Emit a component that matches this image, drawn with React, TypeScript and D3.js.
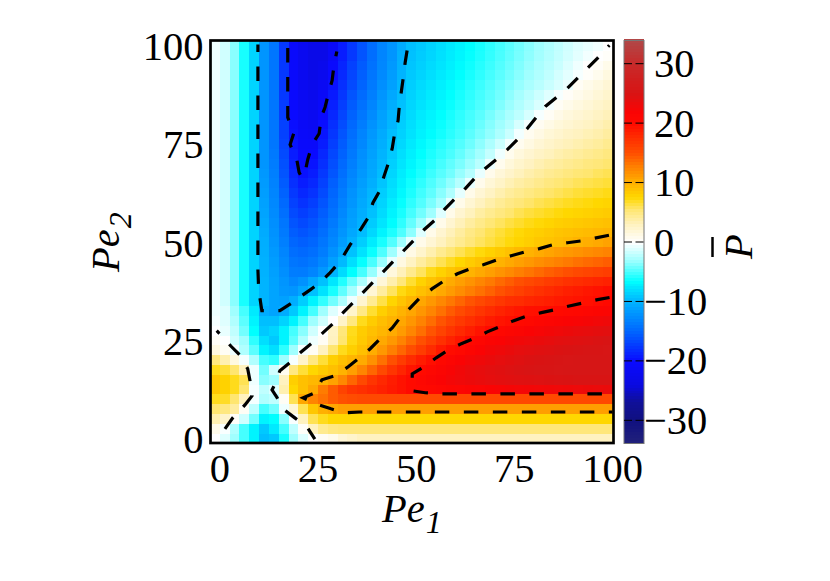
import * as d3 from "d3";
import React from "react";

// Pe1 and Pe2 grid, every 2.5
const pe1Values = d3.range(0, 102.5, 2.5);
const pe1Ticks = [0, 25, 50, 75, 100];
const pe2Ticks = [0, 25, 50, 75, 100];
const barTicks = [30, 20, 10, 0, -10, -20, -30];

// colour stops
const colorLevels = [-34, -30, -27, -24, -20, -15, -10, -6.5, -3, 0, 3, 5.5, 7.5, 10, 13, 15, 18, 20, 22, 25, 30, 34];
const colorStops = [
  "#22227a", "#101080", "#101098", "#0a0ae0", "#0a0aff", "#0066ff", "#00b4ff", "#00ffff", "#a0ffff", "#ffffff",
  "#fff2c0", "#ffe670", "#ffd700", "#ffb000", "#ff7c00", "#ff5000", "#ff2800", "#ff0a00", "#fa0404", "#d81414", "#c82a2a", "#b04848",
];

// mean P, one row per Pe2 value from 0 up to 100
const pbarRows = [
  [0,-1,-3,-5,-7,-9.5,-9,-6,-3,-1,0,.5,1,2,2.5,3,3,3,3,3,3,3,3,3,3,3,3,3,3,3,3,3,3,3,3,3,3,3,3,3,3],
  [1,-.2,-2.5,-5,-7,-9,-7.5,-5,-2,.3,3,4.5,5,5.2,5.2,5.2,5.2,5.2,5.2,5.2,5.2,5.2,5.2,5.2,5.2,5.2,5.2,5.2,5.2,5.2,5.2,5.2,5.2,5.2,5.2,5.2,5.2,5.2,5.2,5.2,5.2],
  [3.5,2.5,.3,-1.5,-4,-7,-6.5,-3.5,-.2,3,6,7,7.5,7.5,7.5,7.5,7.5,7.5,7.5,7.5,7.5,7.5,7.5,7.5,7.5,7.5,7.5,7.5,7.5,7.5,7.5,7.5,7.5,7.5,7.5,7.5,7.5,7.5,7.5,7.5,7.5],
  [5.5,5,4,.5,-2,-5,-4,-.5,2,6,8.5,10,10.5,11,11,11,11,11,11,11,11,11,11,11,11,11,11,11,11,11,11,11,11,11,11,11,11,11,11,11,11],
  [7,6.8,5.5,3,-.3,-2.5,-2,.5,6,10.5,12.5,13.5,14.5,15,15.3,15.5,15.5,15.5,15.5,15.5,15.5,15.5,15.5,15.5,15.5,15.5,15.5,15.5,15.5,15.5,15.5,15.5,15.5,15.5,15.5,15.5,15.5,15.5,15.5,15.5,15.5],
  [8.5,7.8,7,5.5,-.3,-2,-1,3.5,7.5,9,10.3,13,14.5,16,17,17.5,18,18.5,19,19.5,20,20.3,20.6,20.9,21.2,21.4,21.6,21.8,22,22.2,22.4,22.5,22.6,22.7,22.8,22.9,23,23.1,23.2,23.3,23.4],
  [8.5,7.8,7,6,-.5,-3.5,-3,3,8,9,9.5,9.9,10.8,12.3,14,15.5,17,18,18.8,19.5,20.1,20.8,21.5,22,22.5,22.9,23.2,23.5,23.8,24,24.2,24.4,24.5,24.6,24.7,24.8,24.9,25,25,25,25],
  [7,6.5,5.5,3,-.5,-4,-1.5,.7,5,6.5,7.5,8.3,9,9.8,11,12.5,14,15.5,17,18.2,19.3,20,20.8,21.5,22.2,22.8,23.3,23.7,24,24.3,24.6,24.8,25,25.2,25.3,25.4,25.5,25.5,25.5,25.5,25.5],
  [5,3.5,1.5,-.3,-2.5,-5,-5.5,-3,-.3,2.5,5,6.5,8,9,9.7,10.3,11.8,13.5,15,16.5,17.8,18.8,19.7,20.6,21.3,22,22.5,23,23.4,23.8,24.1,24.4,24.7,24.9,25.1,25.3,25.4,25.5,25.5,25.5,25.5],
  [1.5,.5,-.5,-2.5,-4.5,-7,-8,-5.5,-3,-.3,.5,3,5.5,7,8,9,10.2,11.4,12.8,14,15.2,16.5,17.8,19,19.9,20.5,21.2,22,22.6,23,23.4,23.8,24,24.3,24.5,24.7,24.9,25,25.2,25.3,25.4],
  [.5,0,-1.5,-3,-5.5,-8,-9,-7,-4.5,-2.5,-.5,.5,3,5.5,7.2,8.4,9.4,10.4,11.4,12.6,13.8,15,16.2,17.4,18.4,19.2,20.3,21,21.6,22,22.4,22.8,23.1,23.4,23.7,24,24.2,24.4,24.6,24.8,25],
  [0,-.7,-2,-4,-6.5,-9,-8.5,-7,-5,-3.5,-1.5,0,2.8,5.2,7,8.2,9,9.6,10.3,11.2,12.4,13.6,14.8,16,17,17.9,18.7,19.4,20,20.6,21.1,21.5,21.9,22.3,22.6,22.9,23.2,23.5,23.7,23.9,24.1],
  [-.3,-1,-2.5,-4.5,-7,-9.5,-9.5,-8.5,-7,-5,-3,-1.5,0,2.6,5,7,8.2,9.1,9.8,10.5,11.5,12.6,13.7,14.8,15.8,16.7,17.5,18.2,18.9,19.3,19.7,20.1,20.5,20.9,21.3,21.6,21.9,22.2,22.4,22.7,23],
  [-.5,-1,-3,-5,-7.5,-10.5,-11,-10.5,-9,-7,-5,-3,-1,0,2.4,4.8,6.6,8,9,9.8,10.6,11.5,12.5,13.5,14.5,15.4,16.2,17,17.7,18.3,18.8,19.2,19.6,19.7,19.9,20.1,20.3,20.6,20.9,21.2,21.5],
  [-.5,-1.5,-3.5,-6,-8.5,-10,-11,-11.2,-10.4,-8.8,-7,-5.4,-4,-2.5,-.5,2.2,4.4,6.2,7.6,8.7,9.6,10.5,11.4,12.3,13.2,14,14.8,15.5,16.2,16.9,17.5,17.7,18.1,18.4,18.7,19,19.2,19.4,19.6,19.9,20.2],
  [-.5,-1.5,-3.5,-6,-8.5,-10,-11,-11.8,-12,-10.9,-9.4,-7.8,-6,-4.4,-2.8,-.6,2,4,5.8,7.2,8.2,9,9.7,10.4,11.2,12,12.8,13.5,14.2,14.9,15.6,16.2,16.8,17.3,17.8,18.2,18.6,18.9,19.2,19.5,19.8],
  [-.5,-1.5,-3.5,-6,-8.5,-10,-11.1,-12,-12.8,-12.2,-10.8,-9.4,-7.6,-5.8,-4.2,-2.6,-.6,1.8,3.6,5.2,6.6,7.8,8.7,9.5,10.3,11,11.7,12.4,13.1,13.8,14.4,15,15.5,16,16.5,16.9,17.3,17.6,17.9,18.2,18.5],
  [-.5,-1.5,-3.5,-6,-8.5,-10.1,-11.3,-12.4,-13.5,-13.6,-13,-11.8,-10,-8.2,-6.5,-5,-3.2,-.8,1.6,3.2,4.6,5.8,7,7.8,8.6,9.2,9.8,10.4,11,11.6,12.2,12.8,13.3,13.8,14.3,14.7,15.1,15.5,15.8,16.1,16.4],
  [-.5,-1.5,-3.5,-6,-8.5,-10.2,-11.5,-12.7,-14,-14.2,-13.8,-12.8,-11.3,-9.7,-8,-6.4,-4.9,-3.1,-.7,1.4,2.8,4,5,6,6.8,7.5,8.2,8.8,9.4,9.9,10.4,10.9,11.4,11.9,12.3,12.7,13.1,13.5,13.8,14.1,14.4],
  [-.5,-1.5,-3.5,-6,-8.5,-10.3,-11.7,-13,-14.5,-14.8,-14.4,-13.5,-12.2,-10.8,-9.3,-7.8,-6.3,-4.8,-3,-.7,1.2,2.4,3.5,4.5,5.3,6,6.7,7.3,7.9,8.4,8.9,9.4,9.9,10.3,10.7,11.1,11.4,11.7,12,12.3,12.6],
  [-.5,-1.5,-3.5,-6,-8.5,-10.4,-12,-13.4,-15,-15.4,-15,-14,-12.8,-11.5,-10.1,-8.8,-7.4,-6,-4.7,-3,-.8,1,2,3,3.8,4.5,5.2,5.8,6.3,6.8,7.3,7.7,8.1,8.5,8.8,9.1,9.4,9.8,10.1,10.4,10.8],
  [-.5,-1.5,-3.5,-6,-8.5,-10.6,-12.2,-13.7,-15.5,-16,-15.5,-14.5,-13.2,-12,-10.8,-9.6,-8.3,-7,-5.9,-4.8,-3.4,-1,1,2.2,3.2,4,4.8,5.4,6,6.5,7,7.4,7.8,8.1,8.4,8.7,8.9,9.1,9.3,9.5,9.7],
  [-.5,-1.5,-3.5,-6,-8.5,-10.8,-12.4,-14,-16,-16.6,-16,-15,-13.7,-12.4,-11.2,-10.1,-8.9,-7.7,-6.6,-5.5,-4.3,-3,-1,1,2.2,3.2,4,4.7,5.3,5.8,6.3,6.7,7.1,7.4,7.7,8,8.2,8.4,8.6,8.8,9],
  [-.5,-1.5,-3.5,-6,-8.5,-11,-12.6,-14.4,-16.5,-17.2,-16.6,-15.5,-14.2,-12.8,-11.5,-10.4,-9.4,-8.2,-7,-6,-5,-4,-3,-1,1,2.2,3.1,3.9,4.5,5,5.5,6,6.4,6.7,7,7.3,7.5,7.7,7.9,8.1,8.3],
  [-.5,-1.5,-3.5,-6,-8.5,-11.2,-12.8,-14.8,-17,-17.8,-17.2,-16,-14.6,-13.2,-11.9,-10.7,-9.7,-8.5,-7.4,-6.4,-5.5,-4.7,-3.8,-2.8,-.8,1,2.1,3,3.7,4.3,4.8,5.2,5.6,6,6.3,6.6,6.9,7.1,7.3,7.5,7.7],
  [-.5,-1.5,-3.5,-6,-8.5,-11.4,-13,-15.2,-17.5,-18.4,-17.8,-16.5,-15,-13.6,-12.2,-11,-9.9,-8.8,-7.8,-6.8,-5.9,-5.1,-4.4,-3.5,-2.5,-.8,1,2,2.8,3.5,4.1,4.5,4.9,5.3,5.6,5.9,6.2,6.5,6.7,6.9,7.1],
  [-.5,-1.5,-3.5,-6,-8.5,-11.6,-13.2,-15.6,-18,-19,-18.4,-17,-15.4,-14,-12.6,-11.4,-10.3,-9.2,-8.1,-7.1,-6.2,-5.5,-4.8,-4.1,-3.3,-2.3,-.7,.9,1.9,2.6,3.3,3.8,4.2,4.6,5,5.3,5.6,5.9,6.1,6.3,6.5],
  [-.5,-1.5,-3.5,-6,-8.5,-11.8,-13.4,-16,-18.4,-19.6,-19,-17.5,-15.9,-14.4,-13,-11.8,-10.7,-9.6,-8.4,-7.4,-6.6,-5.9,-5.2,-4.6,-4,-3.2,-2.3,-.7,.9,1.8,2.5,3.1,3.6,4,4.4,4.7,5,5.3,5.5,5.8,6],
  [-.5,-1.5,-3.5,-6,-8.5,-12,-13.6,-16.2,-18.8,-20,-19.5,-18,-16.3,-14.8,-13.4,-12.1,-10.9,-9.8,-8.7,-7.7,-6.9,-6.2,-5.6,-5,-4.4,-3.8,-3.1,-2.2,-.6,.8,1.7,2.4,2.9,3.4,3.8,4.1,4.4,4.7,5,5.2,5.5],
  [-.5,-1.5,-3.5,-6,-8.5,-12,-13.8,-16.5,-19,-20.2,-20,-18.4,-16.7,-15.2,-13.8,-12.4,-11.2,-10,-9,-8,-7.2,-6.5,-5.9,-5.4,-4.9,-4.3,-3.6,-2.9,-1.9,-.5,.8,1.6,2.2,2.7,3.1,3.5,3.8,4.1,4.4,4.7,5],
  [-.5,-1.5,-3.5,-6,-8.5,-12,-14,-16.8,-19.4,-20.5,-20.7,-19,-17.2,-15.6,-14.1,-12.8,-11.5,-10.3,-9.2,-8.3,-7.5,-6.8,-6.2,-5.7,-5.2,-4.7,-4.1,-3.4,-2.6,-1.6,-.4,.7,1.4,2,2.5,2.9,3.2,3.5,3.8,4.1,4.5],
  [-.5,-1.5,-3.5,-6,-8.5,-12,-14,-17,-19.6,-20.8,-21.2,-19.4,-17.6,-16,-14.5,-13.1,-11.8,-10.6,-9.5,-8.6,-7.8,-7.1,-6.6,-6.1,-5.6,-5.1,-4.5,-3.9,-3.3,-2.6,-1.7,-.4,.7,1.3,1.9,2.3,2.7,3,3.3,3.6,4],
  [-.5,-1.5,-3.5,-6,-8.5,-12,-14,-17,-19.8,-21,-21.5,-19.8,-18,-16.4,-14.9,-13.5,-12.2,-11,-9.9,-8.8,-8,-7.3,-6.8,-6.3,-5.8,-5.3,-4.8,-4.2,-3.6,-3,-2.3,-1.3,-.3,.6,1.2,1.7,2.1,2.5,2.8,3.2,3.6],
  [-.5,-1.5,-3.5,-6,-8.5,-12,-14,-17.2,-20,-21.2,-21.8,-20.2,-18.4,-16.8,-15.2,-13.9,-12.6,-11.2,-10,-9,-8.2,-7.5,-7,-6.5,-6,-5.5,-5,-4.5,-3.9,-3.3,-2.7,-2.1,-1.3,-.3,.5,1.1,1.6,2,2.4,2.8,3.2],
  [-.5,-1.5,-3.5,-6,-8.5,-12,-14,-17.3,-20.2,-21.4,-22,-20.6,-18.8,-17.2,-15.6,-14.3,-13,-11.6,-10.4,-9.4,-8.4,-7.8,-7.3,-6.8,-6.3,-5.8,-5.3,-4.8,-4.3,-3.7,-3.1,-2.5,-1.9,-1.2,-.3,.5,1,1.5,1.9,2.4,2.8],
  [-.5,-1.5,-3.5,-6,-8.5,-12,-14,-17.5,-20.3,-21.6,-22.3,-21,-19.2,-17.6,-16,-14.7,-13.4,-12,-10.8,-9.6,-8.6,-8,-7.5,-7,-6.5,-6,-5.5,-5,-4.5,-4,-3.4,-2.8,-2.2,-1.6,-1,-.3,.4,.9,1.4,1.9,2.4],
  [-.5,-1.5,-3.5,-6,-8.5,-12,-14,-17.5,-20.3,-21.8,-22.5,-21.5,-19.6,-18,-16.5,-15.1,-13.7,-12.4,-11.2,-9.8,-8.8,-8.2,-7.7,-7.2,-6.7,-6.2,-5.7,-5.2,-4.7,-4.2,-3.7,-3.2,-2.7,-2.2,-1.7,-1.2,-.6,.5,1,1.5,2],
  [-.5,-1.5,-3.5,-6,-8.5,-12,-14,-17.5,-20.5,-22,-23,-22.2,-20,-18.3,-16.8,-15.4,-14,-12.7,-11.5,-10,-9,-8.5,-8,-7.5,-7,-6.5,-6,-5.5,-5,-4.5,-4,-3.5,-3,-2.5,-2,-1.4,-.9,-.3,.3,.8,1.5],
  [-.5,-1.5,-3.5,-6,-8.5,-12,-14,-17.5,-20.5,-22,-23,-22.5,-20.3,-18.6,-17,-15.6,-14.2,-12.9,-11.7,-10.2,-9.2,-8.7,-8.2,-7.7,-7.2,-6.7,-6.2,-5.7,-5.2,-4.7,-4.2,-3.7,-3.2,-2.7,-2.2,-1.7,-1.1,-.5,0,.4,1],
  [-.5,-1.5,-3.5,-6,-8.5,-12,-14,-17.5,-20.5,-22,-23,-23,-21,-19,-17.5,-16,-14.5,-13,-12,-10.3,-9.4,-8.9,-8.4,-7.9,-7.4,-6.9,-6.4,-5.9,-5.4,-4.9,-4.4,-3.9,-3.4,-2.9,-2.4,-1.9,-1.4,-.9,-.4,0,.3],
  [-.5,-1.5,-3.5,-6,-8.5,-12,-14,-17.5,-20.5,-22,-23,-23,-21,-19,-17.5,-16,-14.5,-13,-12,-10.5,-9.5,-9,-8.5,-8,-7.5,-7,-6.5,-6,-5.5,-5,-4.5,-4,-3.5,-3,-2.5,-2,-1.5,-1,-.7,-.4,0],
];

// dashed contour lines as [Pe1, Pe2] pairs
const contourMinus10 = [[9.7,101.5],[9.7,44.1],[9.9,39],[10.7,33.7],[15.3,33.7],[18.4,35.7],[20.4,37.2],[23,39],[25.5,40.8],[28.1,43.4],[30.6,46.2],[33.2,50.5],[36,54.6],[37.8,57.4],[39,61.2],[40.6,64],[41.8,67.9],[42.9,71.2],[43.9,75],[44.4,78.1],[45.4,82.1],[45.7,85.7],[46.2,89.3],[46.7,92.9],[47.2,96.9],[47.7,100]];
const contourMinus20 = [[17.3,101.5],[17.3,82.9],[18.9,79.1],[17.9,76],[19.6,72.2],[20.2,68.9],[20.9,67.6],[21.7,68.9],[22.4,72.2],[23.5,76],[25.3,78.8],[25.8,82.9],[26.8,85.5],[27.8,89.5],[28.6,92.3],[29.1,96.4],[29.8,99.7]];
const contourZeroRight = [[99.2,101.3],[96.2,98],[93.9,95.7],[91.1,92.9],[88.5,90.3],[85.7,88],[82.9,85.7],[80.4,82.7],[78.3,80.1],[75.8,77.3],[73.2,74.7],[70.4,72.2],[67.6,69.9],[64.8,67.3],[62.5,64.8],[59.7,62],[57.1,59.4],[54.6,56.6],[52,54.3],[33.9,35.7],[31.4,33.2],[28.8,30.4],[26.3,28.1],[23.5,25.5],[20.7,23.2],[18.1,20.7],[15.3,18.4],[13.8,14.5],[13.3,13.5],[14.5,11.7],[16.1,8.7],[19.1,6.4],[22.2,4.1],[24.2,1]];
const contourZeroLeft = [[-.8,28.6],[0,27.8],[2.8,24.7],[5.1,22.4],[7.1,18.9],[7.7,15.8],[8.2,12],[6.4,9.7],[3.3,6.4],[1.3,3.6]];
const contourTen = [[100,53.1],[92.3,51.5],[88.5,51],[84.9,50.5],[81.4,49.5],[77.8,48.7],[74.2,47.7],[70.7,46.7],[67.1,45.4],[63.8,44.4],[60.5,43.1],[57.1,41.3],[54.1,39.3],[51,37],[48.5,34.4],[45.9,31.9],[43.9,29.3],[40.8,26.5],[38.3,24],[35.2,21.4],[32.7,19.4],[29.3,17.1],[26,16.1],[24.2,12.8],[21.2,11.5],[24.7,9.9],[28.3,8.7],[31.6,7.7],[35.5,7.9],[100,7.9]];
const contourTwenty = [[100,37.2],[96.2,36.5],[92.6,35.7],[89,34.9],[85.2,33.9],[81.9,33.2],[78.3,32.4],[74.7,31.1],[71.2,29.6],[68.1,28.3],[64.5,26.5],[61.5,25.3],[57.9,23.5],[55.1,21.7],[52,19.4],[49,17.6],[49,13.3],[52.3,12.8],[56.1,12.5],[100,12.5]];
const contours = [contourMinus10, contourMinus20, contourZeroRight, contourZeroLeft, contourTen, contourTwenty];

const serif = "'Liberation Serif', 'Times New Roman', serif";

export default function App() {
  const x = d3.scaleLinear().domain([-2.5, 100]).range([210, 612.5]);
  const y = d3.scaleLinear().domain([0, 102.5]).range([443, 40.5]);
  const barY = d3.scaleLinear().domain([-33.9, 33.9]).range([443.5, 40.5]);
  const color = d3.scaleLinear<string>().domain(colorLevels).range(colorStops).clamp(true);

  const line = d3
    .line()
    .x((d) => x(d[0]))
    .y((d) => y(d[1]));

  const barSteps = d3.range(-33.9, 33.9, 0.5);
  // where each dash pattern starts
  const dashOffsets = [7, 25.4, 12.5, 10.5, 25.4, 26];

  return (
    <svg width={830} height={581} style={{ position: "absolute", left: 0, top: 0, background: "#fff" }} fontFamily={serif}>
      <defs>
        <clipPath id="plotArea">
          <rect x={x(-2.5)} y={y(102.5)} width={x(100) - x(-2.5) + 1} height={y(0) - y(102.5)} />
        </clipPath>
      </defs>

      {/* heat map */}
      <g shapeRendering="crispEdges">
        {pbarRows.map((row, j) =>
          row.map((v, i) => (
            <rect
              key={i + "-" + j}
              x={x(pe1Values[i] - 2.5)}
              y={y(pe1Values[j] + 2.5)}
              width={x(2.5) - x(0) + 0.5}
              height={y(0) - y(2.5) + 0.5}
              fill={color(v)}
            />
          ))
        )}
      </g>

      {/* contours */}
      <g clipPath="url(#plotArea)" fill="none" stroke="#000" strokeWidth={3.2} strokeDasharray="14.5 14.5">
        {contours.map((c, i) => (
          <path key={i} d={line(c as [number, number][]) || ""} strokeDashoffset={dashOffsets[i]} />
        ))}
      </g>

      {/* frame */}
      <rect x={210.5} y={40.5} width={403} height={402.5} fill="none" stroke="#000" strokeWidth={2.7} />

      {/* axis labels */}
      <g fontSize={40.5} fill="#000">
        {pe1Ticks.map((t) => (
          <text key={t} x={x(t)} y={482} textAnchor="middle">
            {t}
          </text>
        ))}
        {pe2Ticks.map((t) => (
          <text key={t} x={203.5} y={y(t) + 10} textAnchor="end">
            {t}
          </text>
        ))}
        <text x={382} y={522} fontStyle="italic">
          Pe
          <tspan fontSize={32} dx={1} dy={11}>
            1
          </tspan>
        </text>
        <text transform="translate(119,272) rotate(-90)" fontStyle="italic">
          Pe
          <tspan fontSize={32} dx={1} dy={12}>
            2
          </tspan>
        </text>
      </g>

      {/* colour bar */}
      <g shapeRendering="crispEdges">
        {barSteps.map((v) => (
          <rect key={v} x={624} y={barY(v + 0.5)} width={20} height={barY(v) - barY(v + 0.5) + 0.5} fill={color(v + 0.25)} />
        ))}
      </g>
      <rect x={624} y={40.5} width={20} height={403} fill="none" stroke="#777" strokeWidth={1} />
      {barTicks.map((t) => (
        <g key={t}>
          <line x1={624} x2={644} y1={barY(t)} y2={barY(t)} stroke="#000" strokeWidth={1} strokeDasharray="8 3.5" />
          <text x={t < 0 ? 644 : 654} y={barY(t) + 13.5} fontSize={40.5} fill="#000">
            {t < 0 ? "\u2212" + -t : t}
          </text>
        </g>
      ))}
      <text transform="translate(752,259) rotate(-90)" fontSize={40.5} fontStyle="italic" fill="#000">
        P
      </text>
      <line x1={712.5} x2={712.5} y1={237} y2={257} stroke="#000" strokeWidth={2.5} />
    </svg>
  );
}
